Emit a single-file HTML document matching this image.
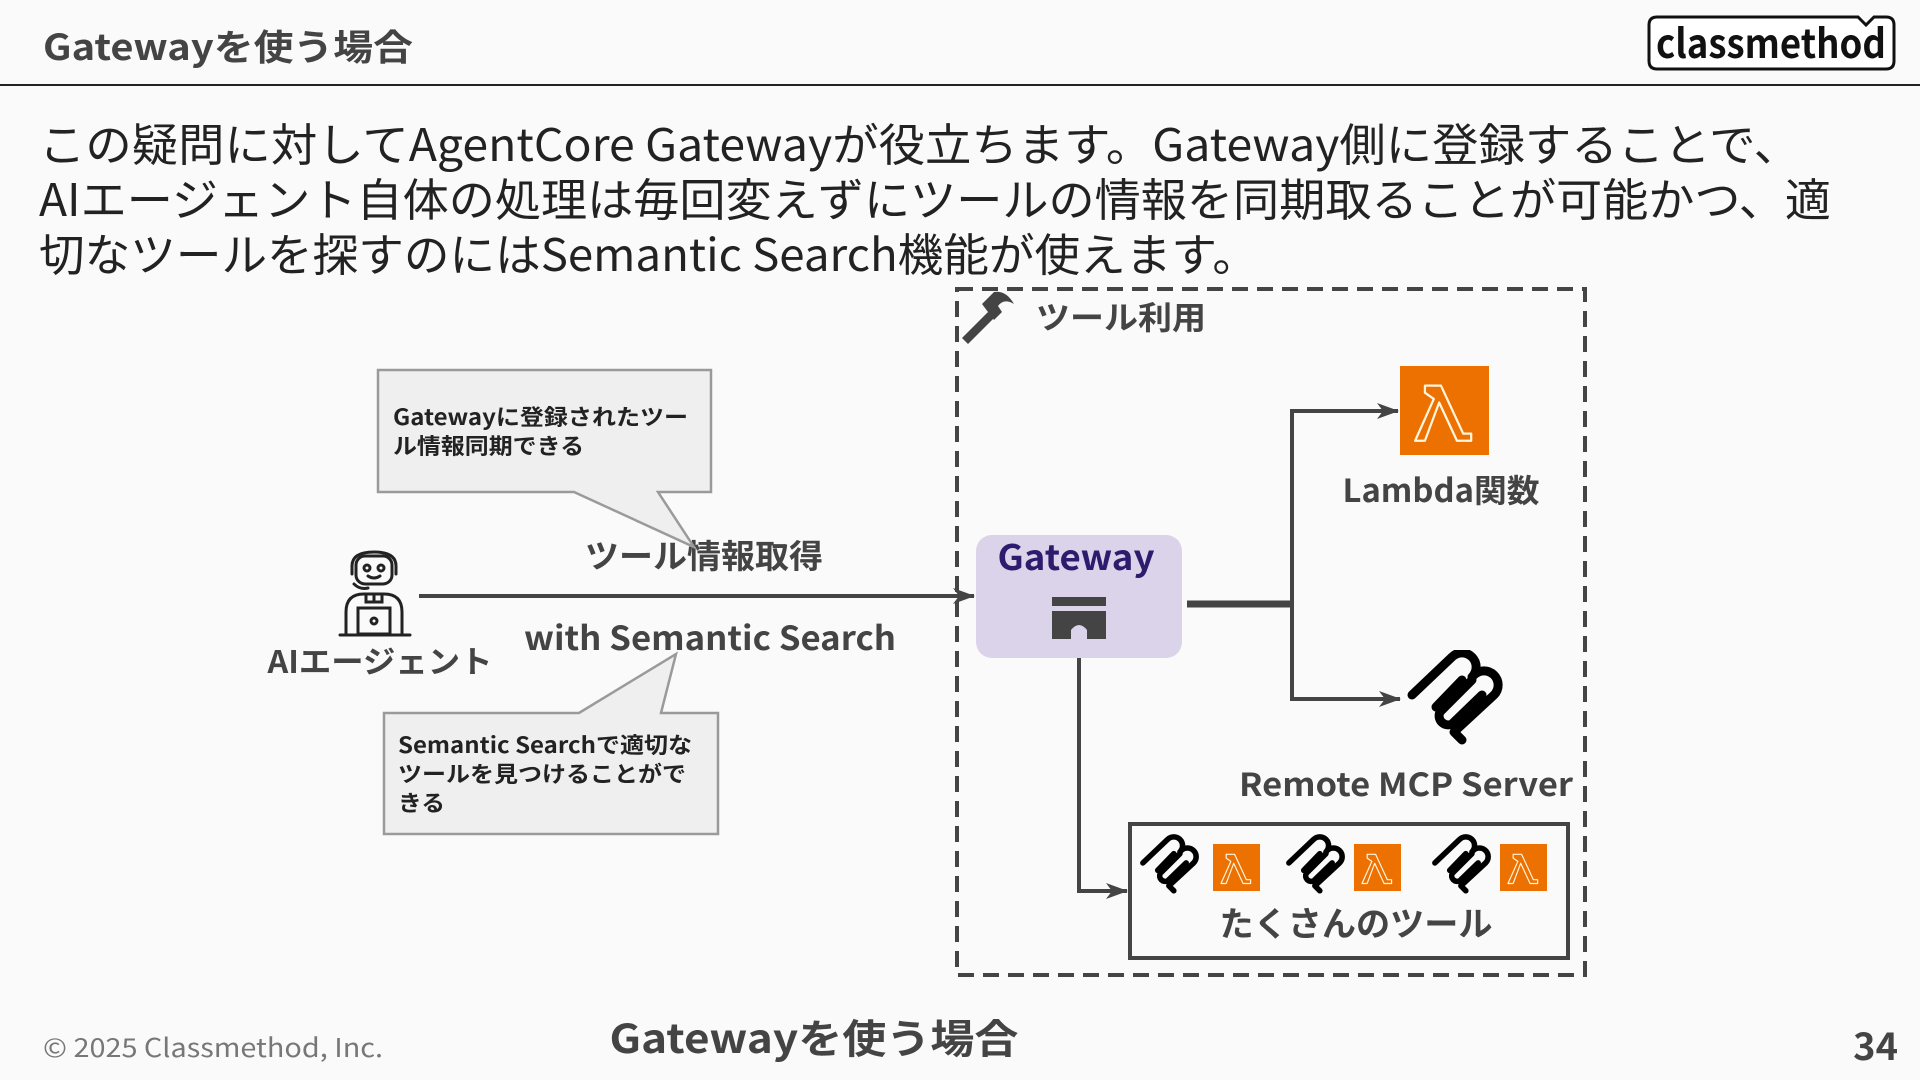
<!DOCTYPE html>
<html><head><meta charset="utf-8">
<style>
html,body{margin:0;padding:0;background:#fafafa;}
svg{display:block;}
text{font-family:"Noto Sans CJK JP","Liberation Sans",sans-serif;}
</style></head>
<body>
<svg width="1920" height="1080" viewBox="0 0 1920 1080" xmlns="http://www.w3.org/2000/svg">
<defs>
  <symbol id="mcp" viewBox="0 0 110 100">
    <g fill="none" stroke="#000" stroke-width="9" stroke-linecap="round" stroke-linejoin="round">
      <path d="M16,45 L56,7 A14,14 0 0 1 76,27 L78,25 A14,14 0 0 1 98,45 L58,82 L66,90"/>
      <path d="M40,57 L66,30"/>
      <path d="M76,30 L44,62 A9,9 0 0 0 56,74 L86,45"/>
    </g>
  </symbol>
  <symbol id="lam" viewBox="0 0 100 100">
    <rect width="100" height="100" fill="#ED7100"/>
    <path d="M28,22 L46,22 L71,76 L80,76 L80,84 L64,84 L44,41 L28,84 L17,84 L38,37 L28,30 Z" fill="none" stroke="#fff6e0" stroke-width="2.5" stroke-linejoin="round"/>
  </symbol>
  <marker id="ah" markerWidth="22" markerHeight="16" refX="21" refY="8" orient="auto" markerUnits="userSpaceOnUse">
    <path d="M0,0 L22,8 L0,16 L6,8 Z" fill="#444"/>
  </marker>
</defs>

<!-- header -->
<text x="43" y="60" font-size="36" font-weight="bold" fill="#444" textLength="370" lengthAdjust="spacingAndGlyphs">Gatewayを使う場合</text>
<line x1="0" y1="85" x2="1920" y2="85" stroke="#222" stroke-width="2"/>
<path d="M1656,17 H1858 L1866,25 L1874,17 H1886 Q1894,17 1894,25 V61 Q1894,69 1886,69 H1657 Q1649,69 1649,61 V25 Q1649,17 1657,17 Z" fill="#fff" stroke="#111" stroke-width="3"/>
<text x="1771" y="58" font-size="40" font-weight="bold" fill="#111" text-anchor="middle" textLength="230" lengthAdjust="spacingAndGlyphs" font-family="Liberation Sans">classmethod</text>

<!-- body text -->
<text x="39" y="161" font-size="45" fill="#222" textLength="1761" lengthAdjust="spacingAndGlyphs">この疑問に対してAgentCore Gatewayが役立ちます。Gateway側に登録することで、</text>
<text x="39" y="216" font-size="45" fill="#222" textLength="1792" lengthAdjust="spacingAndGlyphs">AIエージェント自体の処理は毎回変えずにツールの情報を同期取ることが可能かつ、適</text>
<text x="39" y="271" font-size="45" fill="#222" textLength="1219" lengthAdjust="spacingAndGlyphs">切なツールを探すのにはSemantic Search機能が使えます。</text>

<!-- dashed group -->
<rect x="957" y="289" width="628" height="686" fill="none" stroke="#444" stroke-width="4" stroke-dasharray="16,9"/>
<!-- hammer -->
<g transform="translate(958,290)">
  <path d="M4,48 L30,22 L36,28 L10,54 Z" fill="#444"/>
  <path d="M24,14 L36,2 Q48,0 56,14 Q46,8 40,16 L44,22 L36,30 Z" fill="#444"/>
</g>
<text x="1036" y="329" font-size="32" font-weight="bold" fill="#444" textLength="170" lengthAdjust="spacingAndGlyphs">ツール利用</text>

<!-- Lambda big -->
<use href="#lam" x="1400" y="366" width="89" height="89"/>
<text x="1441" y="502" font-size="32" font-weight="bold" fill="#444" text-anchor="middle" textLength="197" lengthAdjust="spacingAndGlyphs">Lambda関数</text>

<!-- Gateway -->
<rect x="976" y="535" width="206" height="123" rx="16" fill="#DAD3EA"/>
<text x="1076" y="570" font-size="35" font-weight="bold" fill="#2D1B6E" text-anchor="middle" textLength="157" lengthAdjust="spacingAndGlyphs">Gateway</text>
<rect x="1052" y="597" width="54" height="9" fill="#444"/>
<path d="M1052,611 H1106 V639 H1087 V630 Q1079,620 1071,630 V639 H1052 Z" fill="#444"/>

<!-- connectors right -->
<line x1="1187" y1="604" x2="1292" y2="604" stroke="#444" stroke-width="7"/>
<polyline points="1292,699 1292,411 1398,411" fill="none" stroke="#444" stroke-width="4" marker-end="url(#ah)"/>
<polyline points="1292,604 1292,699 1400,699" fill="none" stroke="#444" stroke-width="4" marker-end="url(#ah)"/>

<!-- MCP big -->
<use href="#mcp" x="1396" y="650" width="110" height="100"/>
<text x="1406" y="796" font-size="32" font-weight="bold" fill="#444" text-anchor="middle" textLength="334" lengthAdjust="spacingAndGlyphs">Remote MCP Server</text>

<!-- down connector -->
<polyline points="1079,658 1079,891 1127,891" fill="none" stroke="#444" stroke-width="4" marker-end="url(#ah)"/>

<!-- tools box -->
<rect x="1130" y="824" width="438" height="134" fill="none" stroke="#444" stroke-width="4"/>
<use href="#mcp" x="1133" y="832" width="68" height="68"/>
<use href="#lam" x="1213" y="844" width="47" height="47"/>
<use href="#mcp" x="1279" y="832" width="68" height="68"/>
<use href="#lam" x="1354" y="844" width="47" height="47"/>
<use href="#mcp" x="1425" y="832" width="68" height="68"/>
<use href="#lam" x="1500" y="844" width="47" height="47"/>
<text x="1356" y="936" font-size="34" font-weight="bold" fill="#444" text-anchor="middle" textLength="273" lengthAdjust="spacingAndGlyphs">たくさんのツール</text>

<!-- agent -->
<g fill="none" stroke="#222" stroke-width="3" stroke-linecap="round">
  <rect x="356" y="556" width="36" height="28" rx="9"/>
  <path d="M352,574 V566 Q352,552 374,552 Q396,552 396,566 V574"/>
  <circle cx="367" cy="568" r="3"/>
  <circle cx="381" cy="568" r="3"/>
  <path d="M368,576 Q374,580 380,576"/>
  <path d="M354,584 Q360,590 368,588"/>
  <path d="M346,634 V612 Q346,594 364,594 H384 Q402,594 402,612 V634"/>
  <path d="M366,594 V602 H382 V594 M374,594 V602"/>
  <rect x="358" y="608" width="32" height="26"/>
  <circle cx="374" cy="621" r="3"/>
  <line x1="340" y1="635" x2="410" y2="635"/>
</g>
<text x="380" y="673" font-size="31" font-weight="bold" fill="#444" text-anchor="middle" textLength="225" lengthAdjust="spacingAndGlyphs">AIエージェント</text>

<!-- agent line -->
<line x1="419" y1="596" x2="974" y2="596" stroke="#444" stroke-width="4" marker-end="url(#ah)"/>
<text x="704" y="568" font-size="33" font-weight="bold" fill="#444" text-anchor="middle" textLength="238" lengthAdjust="spacingAndGlyphs">ツール情報取得</text>
<text x="710" y="650" font-size="33" font-weight="bold" fill="#444" text-anchor="middle" textLength="372" lengthAdjust="spacingAndGlyphs">with Semantic Search</text>

<!-- callout 1 -->
<path d="M378,370 H711 V492 H658 L694,547 L574,492 H378 Z" fill="#EFEFEF" stroke="#9a9a9a" stroke-width="2.5"/>
<text x="393" y="425" font-size="22" font-weight="bold" fill="#222" textLength="295" lengthAdjust="spacingAndGlyphs">Gatewayに登録されたツー</text>
<text x="393" y="454" font-size="22" font-weight="bold" fill="#222" textLength="191" lengthAdjust="spacingAndGlyphs">ル情報同期できる</text>

<!-- callout 2 -->
<path d="M384,713 H579 L676,654 L661,713 H718 V834 H384 Z" fill="#EFEFEF" stroke="#9a9a9a" stroke-width="2.5"/>
<text x="398" y="753" font-size="22" font-weight="bold" fill="#222" textLength="294" lengthAdjust="spacingAndGlyphs">Semantic Searchで適切な</text>
<text x="398" y="782" font-size="22" font-weight="bold" fill="#222" textLength="288" lengthAdjust="spacingAndGlyphs">ツールを見つけることがで</text>
<text x="398" y="811" font-size="22" font-weight="bold" fill="#222" textLength="47" lengthAdjust="spacingAndGlyphs">きる</text>

<!-- footer -->
<text x="43" y="1057" font-size="26" fill="#777" textLength="340" lengthAdjust="spacingAndGlyphs">© 2025 Classmethod, Inc.</text>
<text x="814" y="1053" font-size="40" font-weight="bold" fill="#444" text-anchor="middle" textLength="409" lengthAdjust="spacingAndGlyphs">Gatewayを使う場合</text>
<text x="1898" y="1060" font-size="38" font-weight="bold" fill="#444" text-anchor="end">34</text>
</svg>
</body></html>
